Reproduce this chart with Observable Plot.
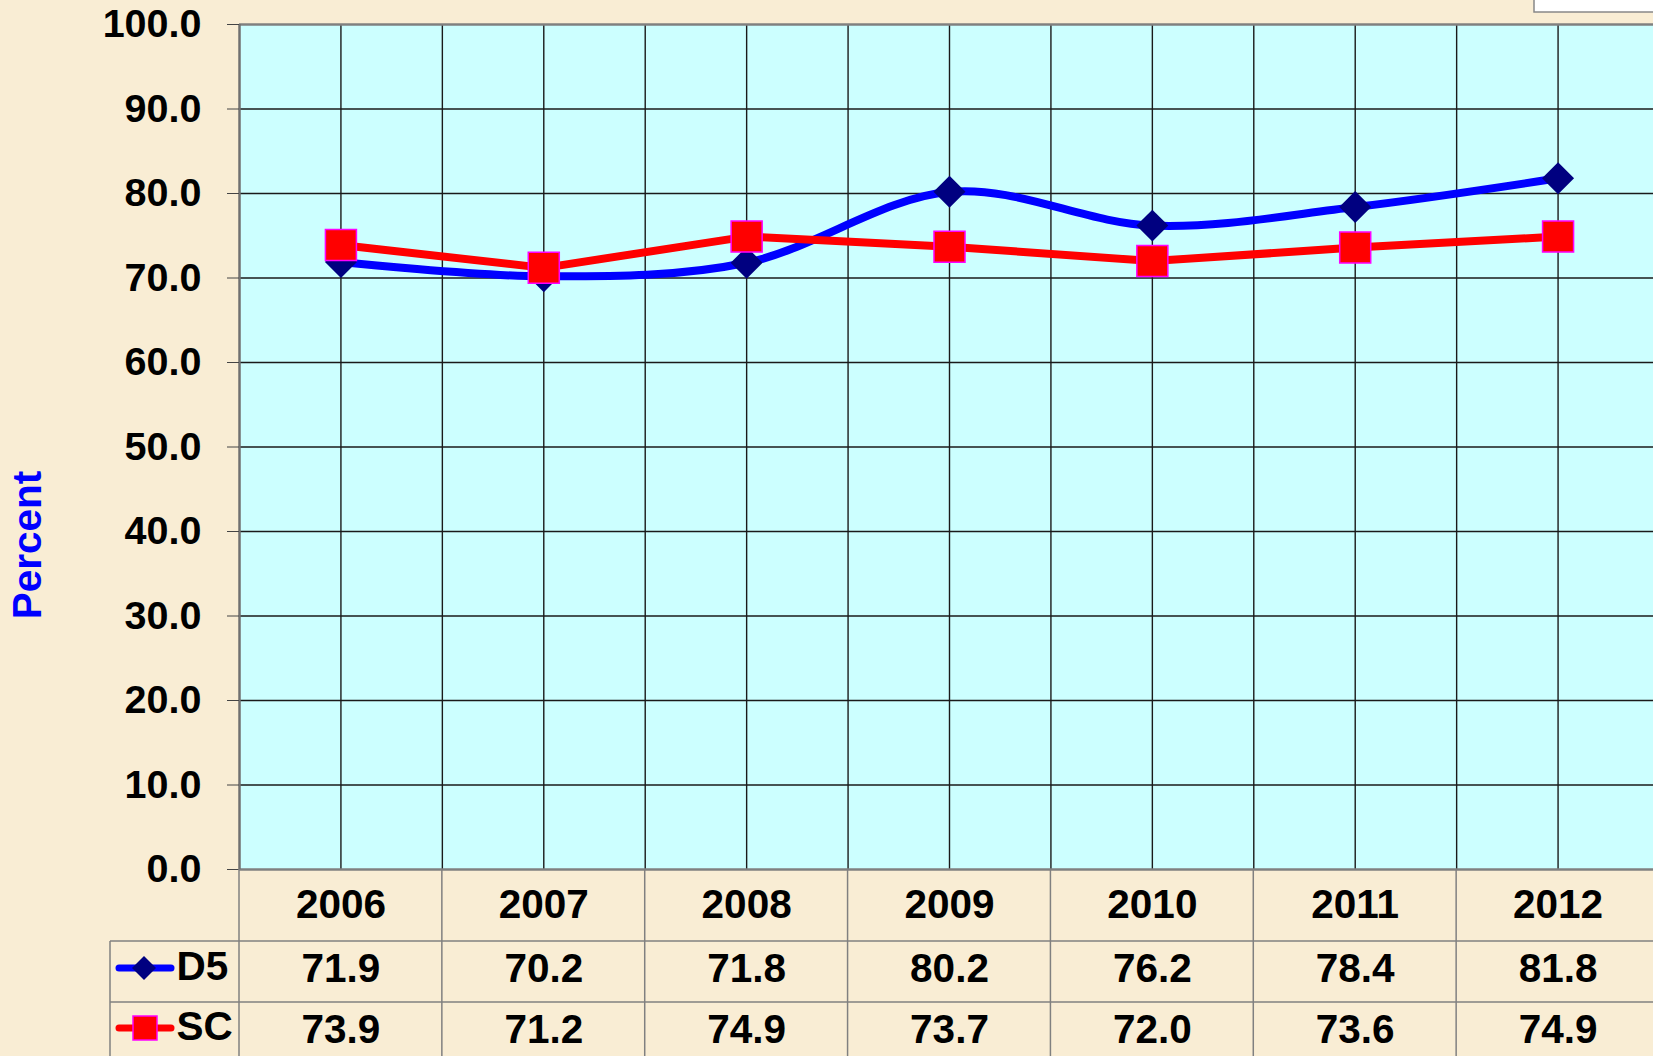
<!DOCTYPE html>
<html><head><meta charset="utf-8">
<script src="https://cdn.jsdelivr.net/npm/d3@7"></script>
<script src="https://cdn.jsdelivr.net/npm/@observablehq/plot@0.6"></script>
<style>
html,body{margin:0;padding:0;overflow:hidden;background:#F9EDD4;width:1653px;height:1056px}
#chart{width:1653px;height:1056px;overflow:hidden;position:relative}
#chart svg{display:block;position:absolute;left:0;top:0;max-width:none !important}
</style></head><body><div id="chart"></div>
<script>
const years = ["2006", "2007", "2008", "2009", "2010", "2011", "2012"];
const d5 = [71.9, 70.2, 71.8, 80.2, 76.2, 78.4, 81.8];
const sc = [73.9, 71.2, 74.9, 73.7, 72.0, 73.6, 74.9];
const yTicks = [0, 10, 20, 30, 40, 50, 60, 70, 80, 90, 100];
const seriesNames = ["D5", "SC"];
const yTitle = "Percent";

const rows = years.map((year, i) => ({year, D5: d5[i], SC: sc[i]}));
const pos = (d, i) => i + 0.5;

const font = "'Liberation Sans', Arial, Helvetica, sans-serif";
const W = 1659, H = 1056, ML = 239, MT = 24, MB = 187;
const FS = 40.5, FT = 39.5;

function tableGrid(index, scales, values, dims) {
  const x = scales.x;
  const g = d3.create("svg:g");
  const bottom = dims.height - dims.marginBottom;
  const r1 = bottom + 72, r2 = bottom + 133;
  const gray = "#808080";
  for (let k = 1; k <= years.length; k++) {
    g.append("line").attr("x1", x(k)).attr("x2", x(k)).attr("y1", bottom).attr("y2", H)
      .attr("stroke", gray).attr("stroke-width", 1.5);
  }
  g.append("line").attr("x1", x(0)).attr("x2", x(0)).attr("y1", bottom).attr("y2", H)
    .attr("stroke", gray).attr("stroke-width", 1.5);
  g.append("line").attr("x1", 110).attr("x2", 110).attr("y1", r1).attr("y2", H)
    .attr("stroke", gray).attr("stroke-width", 1.5);
  for (const yy of [r1, r2]) {
    g.append("line").attr("x1", 110).attr("x2", dims.width).attr("y1", yy).attr("y2", yy)
      .attr("stroke", gray).attr("stroke-width", 1.5);
  }
  const k1 = bottom + 99, k2 = bottom + 159;
  g.append("line").attr("x1", 119).attr("x2", 171).attr("y1", k1).attr("y2", k1)
    .attr("stroke", "#0000FF").attr("stroke-width", 7).attr("stroke-linecap", "round");
  g.append("path").attr("d", `M144,${k1-12}L156,${k1}L144,${k1+12}L132,${k1}Z`).attr("fill", "#000080");
  g.append("line").attr("x1", 119).attr("x2", 171).attr("y1", k2).attr("y2", k2)
    .attr("stroke", "#FF0000").attr("stroke-width", 7).attr("stroke-linecap", "round");
  g.append("rect").attr("x", 133).attr("y", k2 - 12).attr("width", 24).attr("height", 24)
    .attr("fill", "#FF0000").attr("stroke", "#FF00FF").attr("stroke-width", 1.5);
  g.append("rect").attr("x", 1534).attr("y", -2).attr("width", 140).attr("height", 14)
    .attr("fill", "#FFFFFF").attr("stroke", "#888").attr("stroke-width", 1.5);
  return g.node();
}

const txt = {fontSize: FS, fontWeight: "bold", fill: "#000", lineAnchor: "middle"};

const plot = Plot.plot({
  width: W, height: H,
  marginLeft: ML, marginRight: 0, marginTop: MT, marginBottom: MB,
  style: {fontFamily: font, background: "transparent", overflow: "visible", maxWidth: "none"},
  x: {domain: [0, years.length], axis: null},
  y: {domain: [0, 100], axis: null},
  marks: [
    Plot.frame({fill: "#CCFFFF", stroke: null}),
    Plot.ruleY(yTicks.filter(v => v > 0 && v < 100), {stroke: "#1a1a1a", strokeWidth: 1.4}),
    Plot.ruleX(d3.range(1, years.length), {stroke: "#1a1a1a", strokeWidth: 1.4}),
    Plot.ruleX(rows, {x: pos, stroke: "#1a1a1a", strokeWidth: 1.4}),
    Plot.ruleY([0, 100], {stroke: "#808080", strokeWidth: 2.5}),
    Plot.ruleX([0], {stroke: "#707070", strokeWidth: 2.5}),
    Plot.axisY({ticks: yTicks, tickFormat: d => d.toFixed(1), tickSize: 12, tickPadding: 26,
      fontSize: FT, fontWeight: "bold", fill: "#000", stroke: "#444", label: null}),
    Plot.text([yTitle], {frameAnchor: "left", dx: -211, dy: 98, rotate: -90, textAnchor: "middle", lineAnchor: "middle",
      fill: "#0000FF", fontSize: FS, fontWeight: "bold"}),
    Plot.line(rows, {x: pos, y: "D5", stroke: "#0000FF", strokeWidth: 8, curve: "cardinal"}),
    Plot.dot(rows, {x: pos, y: "D5", symbol: "diamond2", r: 14.4, fill: "#000080", stroke: null}),
    Plot.line(rows, {x: pos, y: "SC", stroke: "#FF0000", strokeWidth: 8}),
    Plot.dot(rows, {x: pos, y: "SC", symbol: "square", r: 17.5, fill: "#FF0000", stroke: "#FF00FF", strokeWidth: 1.5}),
    tableGrid,
    Plot.text(rows, {x: pos, text: "year", frameAnchor: "bottom", dy: 36, ...txt}),
    Plot.text(rows, {x: pos, text: d => d.D5.toFixed(1), frameAnchor: "bottom", dy: 100, ...txt}),
    Plot.text(rows, {x: pos, text: d => d.SC.toFixed(1), frameAnchor: "bottom", dy: 161, ...txt}),
    Plot.text([seriesNames[0]], {frameAnchor: "bottom-left", dx: -63, dy: 98, textAnchor: "start", ...txt}),
    Plot.text([seriesNames[1]], {frameAnchor: "bottom-left", dx: -63, dy: 158, textAnchor: "start", ...txt})
  ]
});
document.getElementById("chart").append(plot);
</script></body></html>
